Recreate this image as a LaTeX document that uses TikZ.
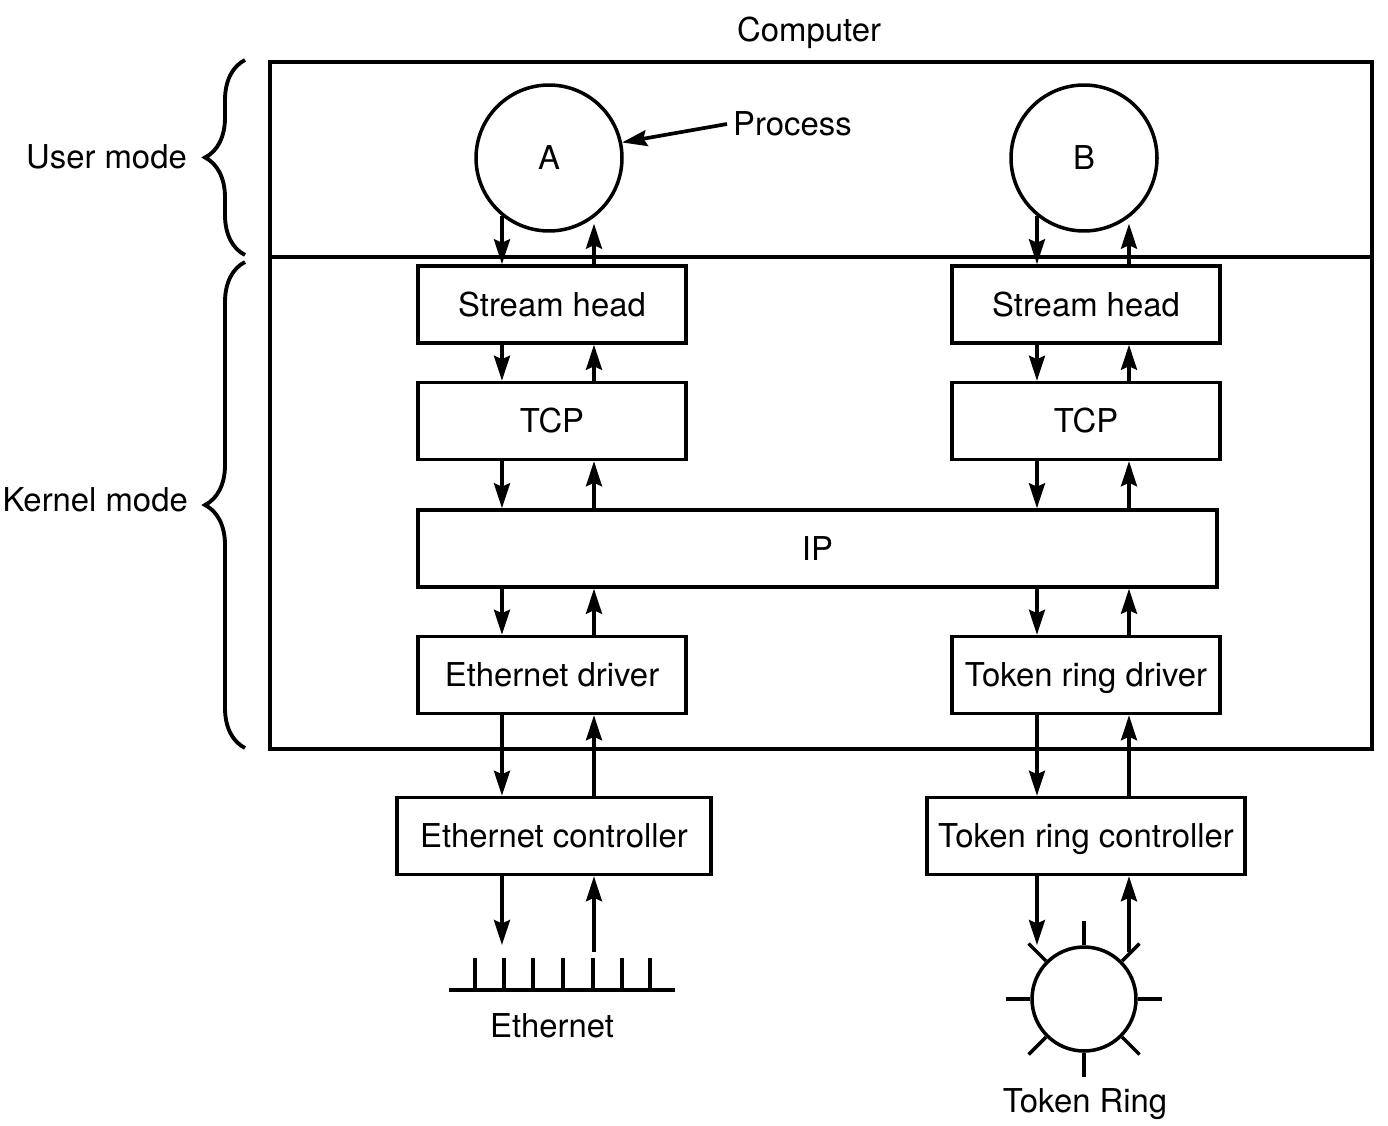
\documentclass[tikz,border=0pt]{standalone}
\usepackage{fontspec}
\setmainfont{TeX Gyre Heros}
\usetikzlibrary{arrows.meta,calc,decorations.pathreplacing}

\tikzset{
  modbox/.style={draw, line width=2pt, minimum width=5.36cm, minimum height=1.54cm, inner sep=0pt,
    text height=13.5pt, text depth=0pt},
  procnode/.style={draw, circle, line width=2pt, minimum size=2.92cm, inner sep=0pt},
  flow/.style={line width=2.1pt, -{Stealth[length=0.5cm,width=0.32cm,inset=0.07cm]}},
  bracket/.style={decorate, decoration={brace, amplitude=0.8cm}, line width=2.2pt},
  wire/.style={line width=2pt},
}

\begin{document}
\begin{tikzpicture}[x=0.02cm, y=-0.02cm, font=\fontsize{18.7}{22}\selectfont]
  \useasboundingbox (0,0) rectangle (1388,1125);

  % computer and the two modes
  \draw[wire] (270,62) rectangle (1372,749);
  \draw[wire] (270,257) -- (1372,257);
  \node (comp) at (809,33) {Computer};
  \draw[bracket] (245,255) -- (245,60);
  \draw[bracket] (245,748) -- (245,262);
  \node[anchor=east] (user) at (193,157) {User mode};
  \node[anchor=east] (kernel) at (194,500) {Kernel mode};

  % processes
  \node[procnode] (A) at (549,158) {A};
  \node[procnode] (B) at (1084,158) {B};
  \node[anchor=west] (proclbl) at (727,124) {Process};
  \draw[flow] (proclbl.west) -- (A.12);

  % stacks
  \node[modbox] (shA) at (552,304.5) {Stream head};
  \node[modbox] (shB) at (1086,304.5) {Stream head};
  \node[modbox] (tcpA) at (552,421) {TCP};
  \node[modbox] (tcpB) at (1086,421) {TCP};
  \node[modbox, minimum width=15.98cm] (ip) at (817.5,548.5) {IP};
  \node[modbox] (drvA) at (552,675) {Ethernet driver};
  \node[modbox] (drvB) at (1086,675) {Token ring driver};
  \node[modbox, minimum width=6.28cm] (ctlA) at (554,836) {Ethernet controller};
  \node[modbox, minimum width=6.36cm] (ctlB) at (1086,836) {Token ring controller};

  \coordinate (dnA) at (A.-129);
  \coordinate (upA) at (A.-53);
  \coordinate (dnB) at (B.-129);
  \coordinate (upB) at (B.-53);

  \draw[flow] (dnA) -- (dnA |- shA.north);
  \draw[flow, shorten >=0.12cm] (upA |- shA.north) -- (upA);
  \draw[flow] (dnB) -- (dnB |- shB.north);
  \draw[flow, shorten >=0.12cm] (upB |- shB.north) -- (upB);

  \foreach \hi/\lo in {shA/tcpA, tcpA/ip, ip/drvA, drvA/ctlA} {
    \draw[flow] (\hi.south -| dnA) -- (\lo.north -| dnA);
    \draw[flow] (\lo.north -| upA) -- (\hi.south -| upA);
  }
  \foreach \hi/\lo in {shB/tcpB, tcpB/ip, ip/drvB, drvB/ctlB} {
    \draw[flow] (\hi.south -| dnB) -- (\lo.north -| dnB);
    \draw[flow] (\lo.north -| upB) -- (\hi.south -| upB);
  }

  % ethernet
  \draw[wire] (449,990) -- (675,990);
  \foreach \x in {475,504,533,563,593,622,650}
    \draw[wire] (\x,958) -- (\x,990);
  \coordinate (ethIn) at (dnA |- 0,945);
  \coordinate (ethOut) at (upA |- 0,952);
  \draw[flow] (ctlA.south -| dnA) -- (ethIn);
  \draw[flow] (ethOut) -- (ctlA.south -| upA);
  \node (eth) at (552,1026) {Ethernet};

  % token ring
  \node[draw, circle, line width=2pt, minimum size=2.08cm, inner sep=0pt] (ring) at (1084,999) {};
  \foreach \a in {0,45,...,315}
    \draw[wire] (ring.\a) -- ($(ring.center)!1.46!(ring.\a)$);
  \coordinate (ringIn) at (dnB |- 0,945);
  \coordinate (ringOut) at (upB |- 0,952);
  \draw[flow] (ctlB.south -| dnB) -- (ringIn);
  \draw[flow] (ringOut) -- (ctlB.south -| upB);
  \node (tr) at (1085,1104) {Token Ring};
\end{tikzpicture}
\end{document}
